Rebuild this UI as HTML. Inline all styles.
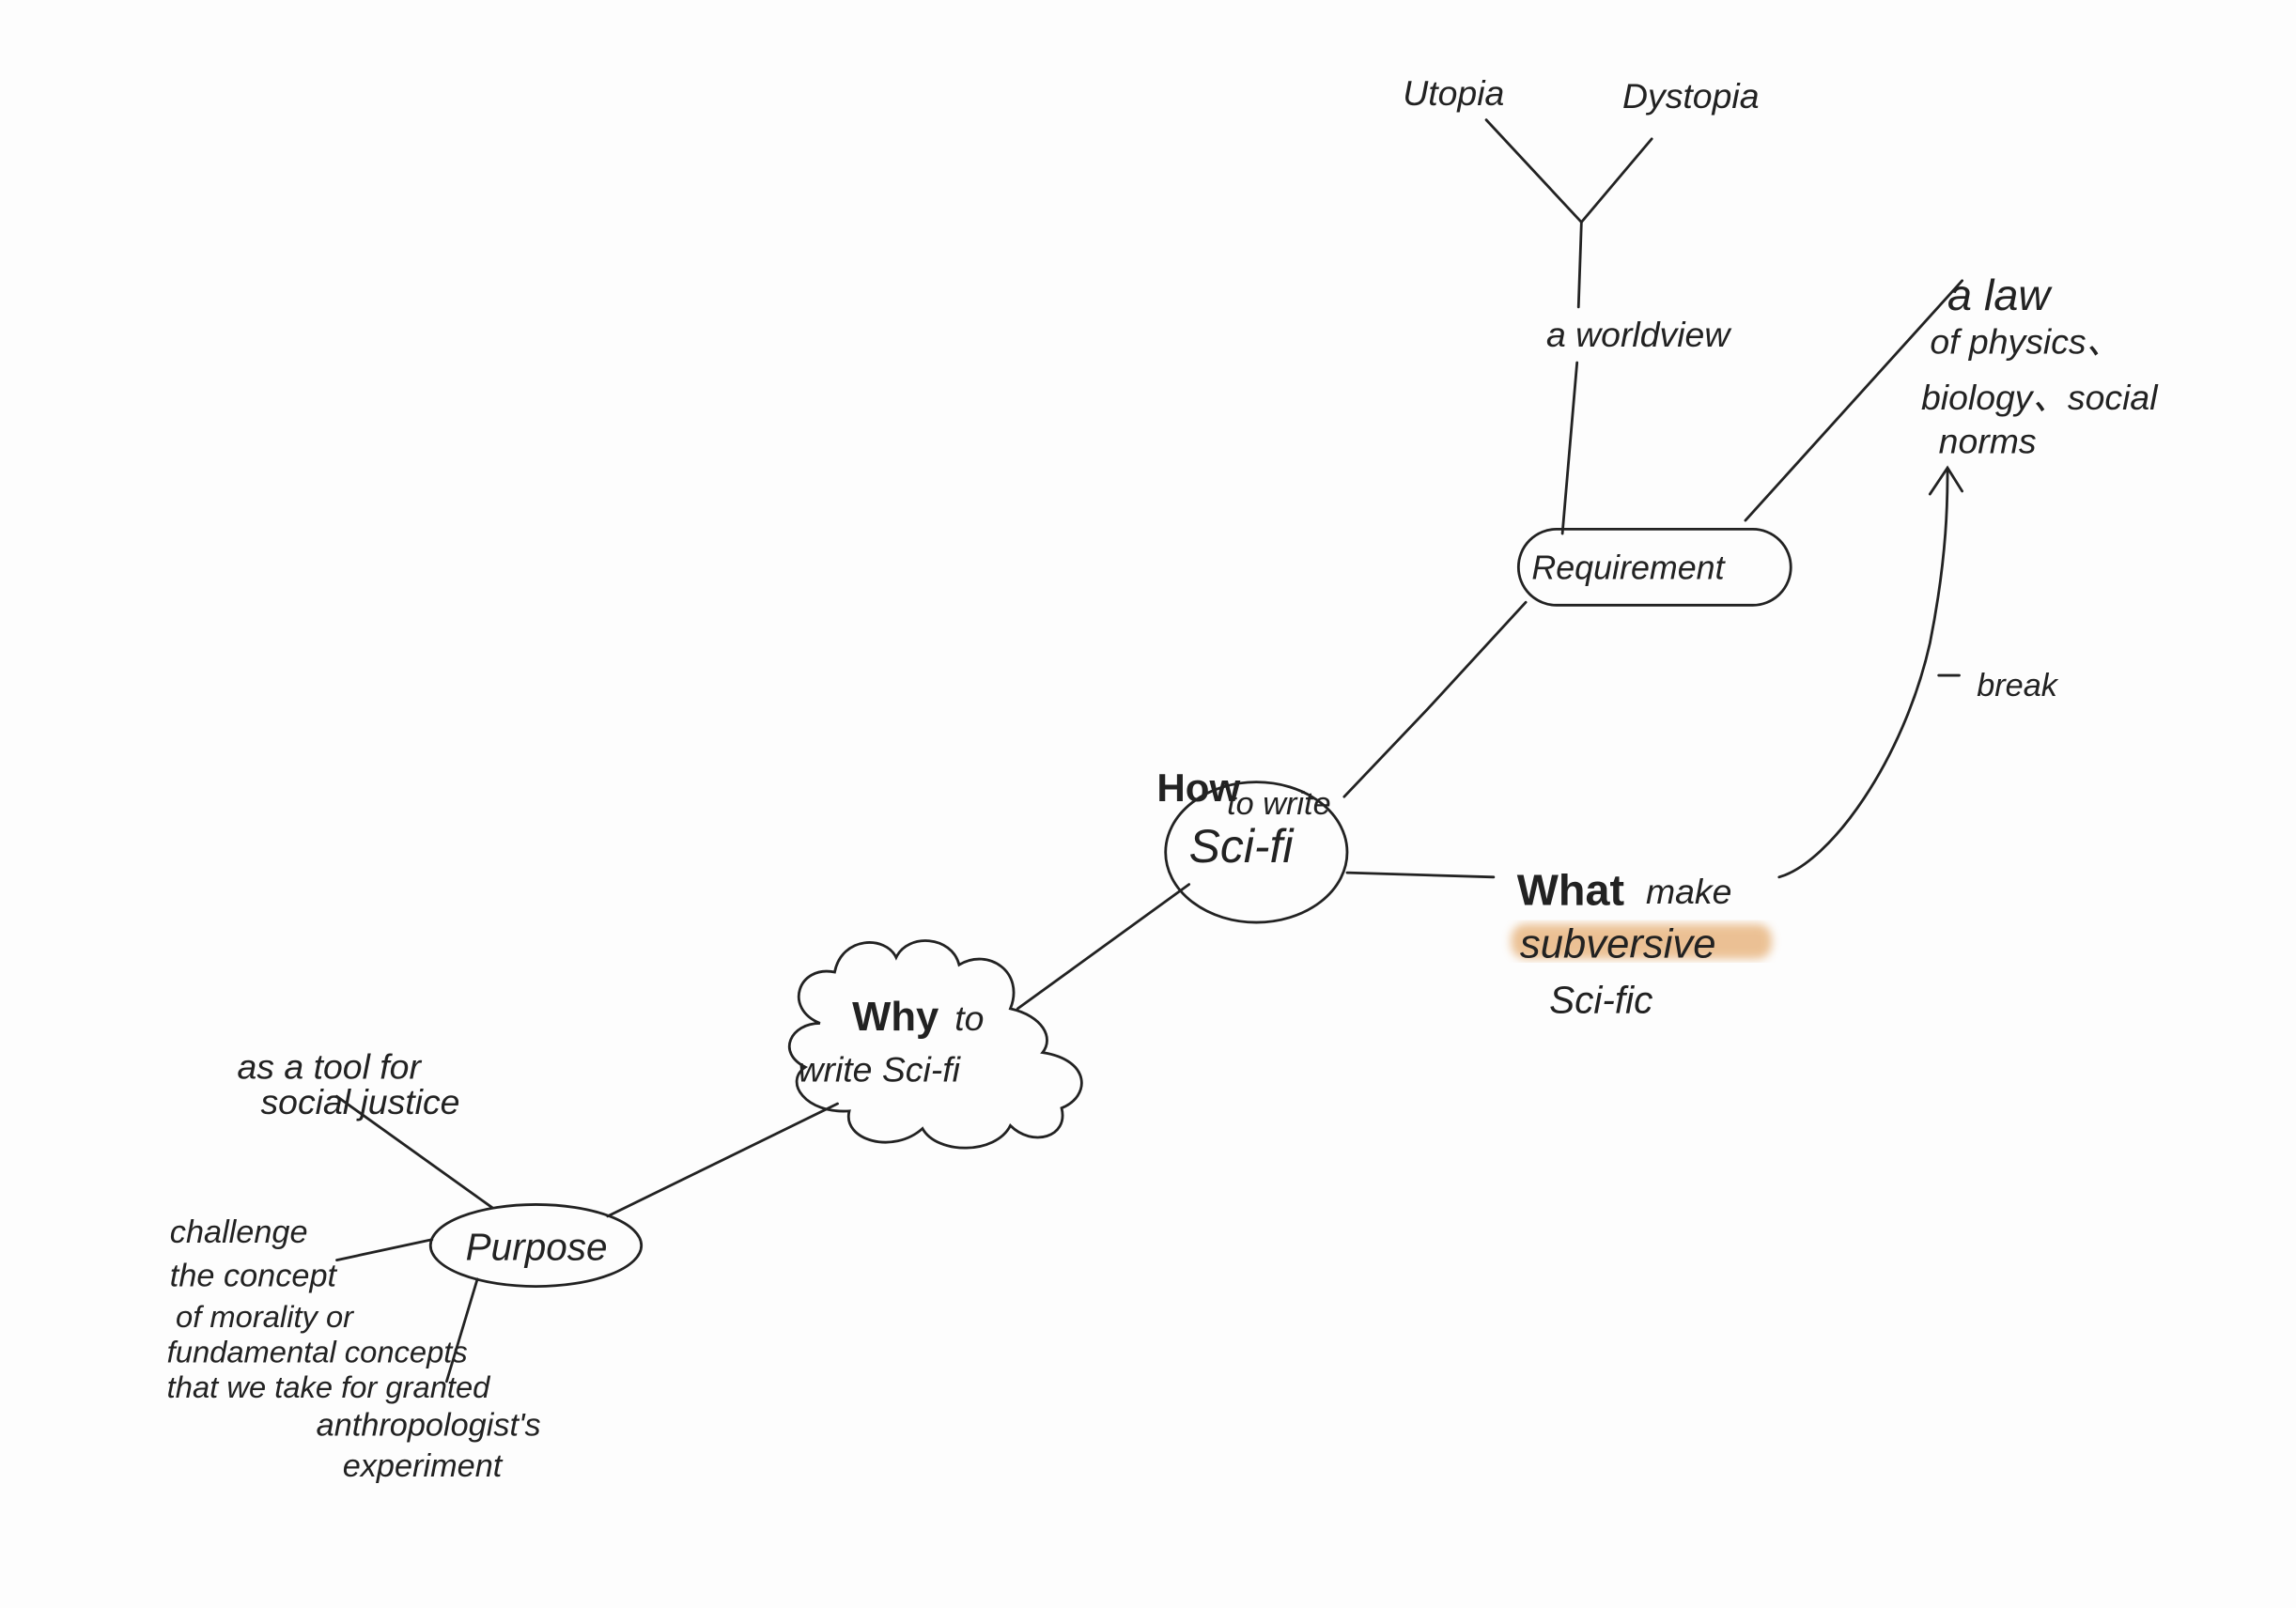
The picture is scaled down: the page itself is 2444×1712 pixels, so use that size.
<!DOCTYPE html>
<html><head><meta charset="utf-8">
<style>
html,body{margin:0;padding:0;background:#fdfdfd;}
svg{display:block}
text{font-family:"Liberation Sans",sans-serif;fill:#222;}
.h{font-family:"Liberation Serif",serif;font-style:italic;}
</style></head>
<body>
<svg width="2444" height="1712" viewBox="0 0 1568 1100" preserveAspectRatio="none" xmlns="http://www.w3.org/2000/svg">
<rect width="1568" height="1100" fill="#fdfdfd"/>
<defs><filter id="bl"><feGaussianBlur stdDeviation="3"/></filter></defs>
<g fill="none" stroke="#222" stroke-width="1.8" stroke-linecap="round">
<path d="M1015 82 L1080 152 L1128 95"/>
<path d="M1080 152 L1078 210"/>
<path d="M1077 248 L1067 365"/>
<rect x="1037" y="362" width="186" height="52" rx="26"/>
<path d="M1192 356 L1340 192"/>
<path d="M1215 600 C1250 590 1300 520 1318 440 C1330 380 1330 340 1330 322"/>
<path d="M1318 338 L1330 320 L1340 336"/>
<path d="M1324 462 L1338 462"/>
<path d="M1042 412 L975 485 L918 545"/>
<ellipse cx="858" cy="583" rx="62" ry="48"/>
<path d="M920 597 L1020 600"/>
<path d="M812 605 L695 690"/>
<path d="M560 700 C535 690 545 660 570 665 C575 640 605 640 612 655 C620 638 650 640 655 660 C675 648 700 665 690 690 C712 695 720 710 712 720 C745 725 745 750 725 758 C730 778 705 785 690 770 C680 790 640 790 630 772 C610 790 575 780 580 760 C550 762 535 740 550 730 C530 720 540 700 560 700 Z"/>
<path d="M572 755 L415 832"/>
<ellipse cx="366" cy="852" rx="72" ry="28"/>
<path d="M230 750 L336 826"/>
<path d="M230 862 L295 848"/>
<path d="M326 875 L305 945"/>
</g>
<rect x="1032" y="632" width="178" height="24" rx="10" fill="#e7b27a" opacity="0.8" filter="url(#bl)"/>
<g class="h">
<text x="958" y="72" font-size="24">Utopia</text>
<text x="1108" y="74" font-size="24">Dystopia</text>
<text x="1056" y="237" font-size="24">a worldview</text>
<text x="1330" y="212" font-size="30">a law</text>
<text x="1318" y="242" font-size="24">of physics、</text>
<text x="1312" y="280" font-size="24">biology、social</text>
<text x="1324" y="310" font-size="24">norms</text>
<text x="1350" y="476" font-size="22">break</text>
<text x="1046" y="396" font-size="23">Requirement</text>
<text x="790" y="548" font-size="27" font-weight="bold" font-style="normal">How</text>
<text x="838" y="557" font-size="22">to write</text>
<text x="812" y="590" font-size="32">Sci-fi</text>
<text x="1036" y="619" font-size="30" font-weight="bold" font-style="normal">What</text>
<text x="1124" y="618" font-size="24">make</text>
<text x="1038" y="655" font-size="28">subversive</text>
<text x="1058" y="693" font-size="26">Sci-fic</text>
<text x="582" y="705" font-size="28" font-weight="bold" font-style="normal">Why</text>
<text x="652" y="705" font-size="24">to</text>
<text x="545" y="740" font-size="24">write Sci-fi</text>
<text x="318" y="862" font-size="26">Purpose</text>
<text x="162" y="738" font-size="24">as a tool for</text>
<text x="178" y="762" font-size="24">social justice</text>
<text x="116" y="850" font-size="22">challenge</text>
<text x="116" y="880" font-size="22">the concept</text>
<text x="120" y="908" font-size="21">of morality or</text>
<text x="114" y="932" font-size="21">fundamental concepts</text>
<text x="114" y="956" font-size="21">that we take for granted</text>
<text x="216" y="982" font-size="22">anthropologist's</text>
<text x="234" y="1010" font-size="22">experiment</text>
</g>
</svg>
</body></html>
